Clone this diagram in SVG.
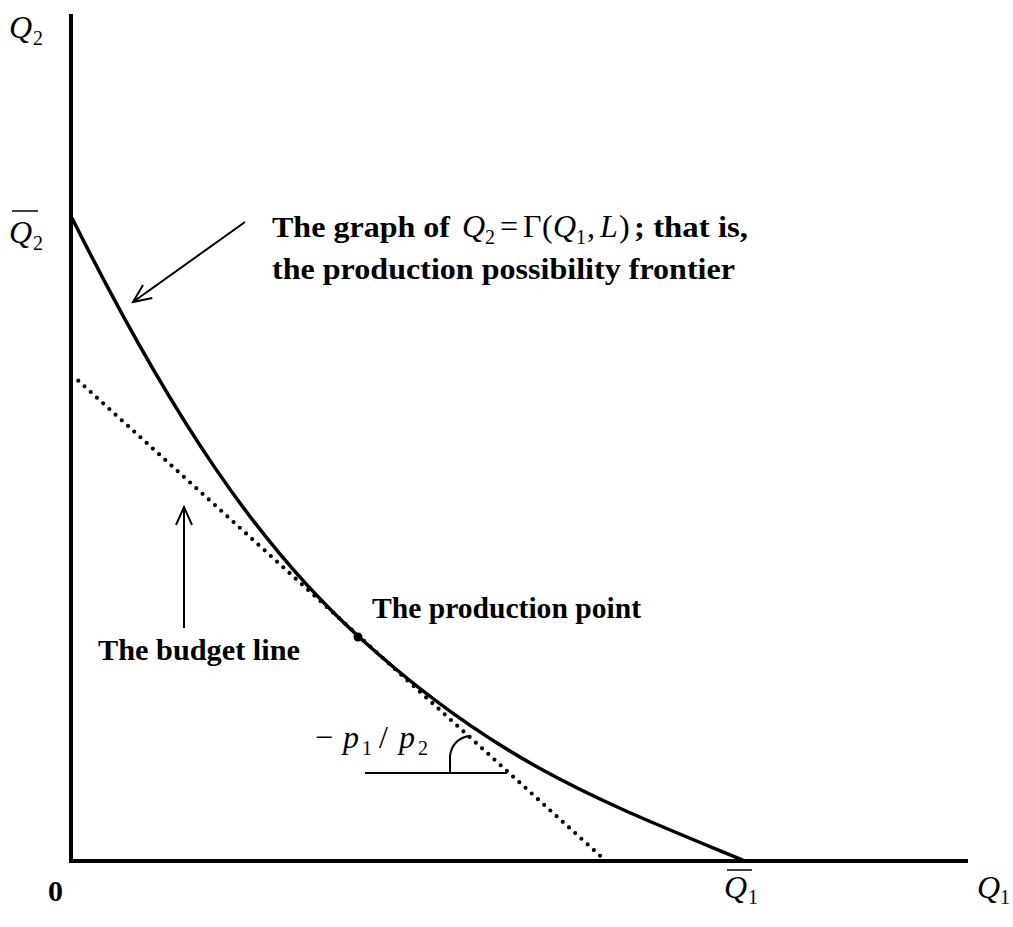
<svg xmlns="http://www.w3.org/2000/svg" width="1013" height="927" viewBox="0 0 1013 927">
<defs>
<style>
.lbl{font-family:"Liberation Serif",serif;font-weight:bold;font-size:30px;fill:#000}
.mi{font-family:"Liberation Serif",serif;font-style:italic;font-size:32px;fill:#000}
.mr{font-family:"Liberation Serif",serif;font-size:32px;fill:#000}
.sub{font-family:"Liberation Serif",serif;font-size:20px;fill:#000}
.axis{stroke:#000;stroke-width:4;fill:none}
.curve{stroke:#000;stroke-width:3.5;fill:none}
.thin{stroke:#000;stroke-width:2;fill:none}
.dots{stroke:#000;stroke-width:4.2;fill:none;stroke-linecap:round;stroke-dasharray:0 8.4}
</style>
<marker id="open" viewBox="0 0 22 22" refX="20" refY="11" markerWidth="22" markerHeight="22" markerUnits="userSpaceOnUse" orient="auto">
<path d="M2,3 L20,11 L2,19" fill="none" stroke="#000" stroke-width="2"/>
</marker>
</defs>
<rect width="1013" height="927" fill="#fff"/>
<g id="axes">
<line class="axis" x1="71" y1="14" x2="71" y2="862"/>
<line class="axis" x1="69" y1="861" x2="968" y2="861"/>
</g>
<g id="ppf">
<path class="curve" d="M72,218 C172,418 258,545 358,636 C498,764 605,803 745,861"/>
</g>
<g id="budget">
<line class="dots" x1="78.3" y1="380.7" x2="601" y2="856.6"/>
</g>
<g id="point">
<circle cx="358" cy="637" r="4.5" fill="#000"/>
</g>
<g id="connectors">
<line class="thin" x1="245" y1="222" x2="133" y2="302" marker-end="url(#open)"/>
<line class="thin" x1="184" y1="628" x2="184" y2="507" marker-end="url(#open)"/>
<line class="thin" x1="365" y1="773" x2="507" y2="773"/>
<path class="thin" d="M450,773 L450,756 Q452,740 468,736"/>
</g>
<g id="labels">
<text class="mi" x="9" y="38">Q</text><text class="sub" x="33" y="45">2</text>
<line x1="12" y1="211" x2="38" y2="211" stroke="#000" stroke-width="1.5"/>
<text class="mi" x="9" y="243">Q</text><text class="sub" x="33" y="250">2</text>
<line x1="727" y1="870" x2="752" y2="870" stroke="#000" stroke-width="1.5"/>
<text class="mi" x="724" y="898">Q</text><text class="sub" x="748" y="904">1</text>
<text class="mi" x="977" y="898">Q</text><text class="sub" x="1000" y="904">1</text>
<text class="lbl" x="48" y="901">0</text>
</g>
<g id="ppf-label">
<text class="lbl" x="272" y="237" textLength="178" lengthAdjust="spacingAndGlyphs">The graph of</text>
<text class="mi" x="462" y="237">Q</text><text class="sub" x="485" y="244">2</text>
<text class="mr" x="500" y="237">=</text>
<text class="mr" x="523" y="237">Γ</text>
<text class="mr" x="542" y="237">(</text>
<text class="mi" x="553" y="237">Q</text><text class="sub" x="576" y="244">1</text>
<text class="mr" x="587" y="237">,</text>
<text class="mi" x="600" y="237">L</text>
<text class="mr" x="619" y="237">)</text>
<text class="lbl" x="634" y="237" textLength="114" lengthAdjust="spacingAndGlyphs">; that is,</text>
<text class="lbl" x="272" y="279" textLength="463" lengthAdjust="spacingAndGlyphs">the production possibility frontier</text>
</g>
<g id="point-label">
<text class="lbl" x="372" y="618" textLength="269" lengthAdjust="spacingAndGlyphs">The production point</text>
</g>
<g id="budget-label">
<text class="lbl" x="98" y="660" textLength="202" lengthAdjust="spacingAndGlyphs">The budget line</text>
</g>
<g id="slope-label">
<text class="mr" x="315" y="748" font-size="34">−</text>
<text class="mi" x="343" y="748" font-size="34">p</text><text class="sub" x="362" y="755">1</text>
<text class="mr" x="379" y="748">/</text>
<text class="mi" x="399" y="748" font-size="34">p</text><text class="sub" x="418" y="755">2</text>
</g>
</svg>
